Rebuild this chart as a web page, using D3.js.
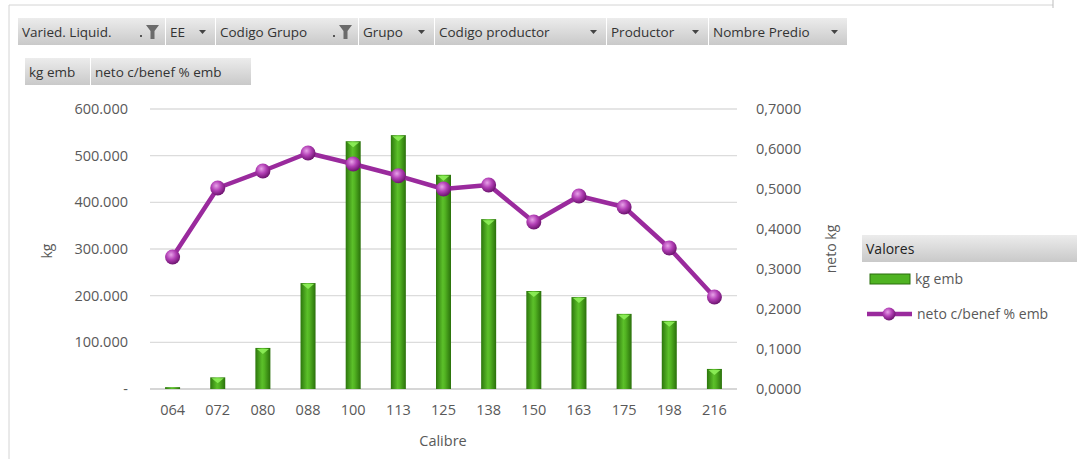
<html><head>
<script src="https://d3js.org/d3.v7.min.js"></script>
<style>
  body { margin:0; background:#fff; }
  text { font-family: "Open Sans", sans-serif; }
</style>
</head>
<body>
<svg id="chart" width="1077" height="459"></svg>
<script>
const calibres = ["064","072","080","088","100","113","125","138","150","163","175","198","216"];
const kgEmb = [4000, 25000, 88000, 227000, 531000, 544000, 459000, 364000, 210000, 197000, 161000, 146000, 43000];
const netoPct = [0.330, 0.5025, 0.545, 0.590, 0.5625, 0.533, 0.500, 0.510, 0.4175, 0.4825, 0.455, 0.3525, 0.230];
const kgTicks = [0, 100000, 200000, 300000, 400000, 500000, 600000];
const netoTicks = [0, 0.1, 0.2, 0.3, 0.4, 0.5, 0.6, 0.7];
const filterFields = ["Varied. Liquid.", "EE", "Codigo Grupo", "Grupo", "Codigo productor", "Productor", "Nombre Predio"];
const filterIcons = ["funnel", "arrow", "funnel", "arrow", "arrow", "arrow", "arrow"];
const valueFields = ["kg emb", "neto c/benef % emb"];

// layout (kept apart from data)
const filterWidths = [148, 50, 143, 76, 172, 102, 139];
const valueWidths = [66, 161];

const svg = d3.select("#chart");
const W = +svg.attr("width");

const locale = d3.formatLocale({decimal: ",", thousands: ".", grouping: [3], currency: ["", ""]});
const fmtKg = d => d === 0 ? "-" : locale.format(",.3f")(d / 1000).replace(",", ".");
const fmtNeto = locale.format(".4f");

const defs = svg.append("defs");
const btnGrad = defs.append("linearGradient").attr("id", "btn").attr("x1", 0).attr("y1", 0).attr("x2", 0).attr("y2", 1);
btnGrad.append("stop").attr("offset", "0%").attr("stop-color", "#ececec");
btnGrad.append("stop").attr("offset", "100%").attr("stop-color", "#c9c9c9");
const barGrad = defs.append("linearGradient").attr("id", "bar").attr("x1", 0).attr("y1", 0).attr("x2", 1).attr("y2", 0);
barGrad.append("stop").attr("offset", "0%").attr("stop-color", "#2c760c");
barGrad.append("stop").attr("offset", "45%").attr("stop-color", "#5cc02a");
barGrad.append("stop").attr("offset", "60%").attr("stop-color", "#52b322");
barGrad.append("stop").attr("offset", "100%").attr("stop-color", "#2a700b");
const dotGrad = defs.append("radialGradient").attr("id", "dot").attr("cx", "40%").attr("cy", "35%").attr("r", "65%");
dotGrad.append("stop").attr("offset", "0%").attr("stop-color", "#e7a2e8");
dotGrad.append("stop").attr("offset", "50%").attr("stop-color", "#b23fb5");
dotGrad.append("stop").attr("offset", "100%").attr("stop-color", "#6d146f");

// outer frame
svg.append("line").attr("x1", 9).attr("x2", 1053).attr("y1", 5).attr("y2", 5).attr("stroke", "#d4d4d4");
svg.append("line").attr("x1", 9).attr("x2", 9).attr("y1", 5).attr("y2", 459).attr("stroke", "#d4d4d4");
svg.append("line").attr("x1", 1053).attr("x2", 1053).attr("y1", 0).attr("y2", 8).attr("stroke", "#bdbdbd");

// field buttons
function buttons(names, widths, x0, y0, icons) {
  let x = x0;
  names.forEach((n, i) => {
    const g = svg.append("g").attr("transform", `translate(${x},${y0})`);
    g.append("rect").attr("width", widths[i] - 1).attr("height", 27).attr("fill", "url(#btn)");
    g.append("text").attr("x", 4).attr("y", 14).attr("dy", "0.35em")
      .attr("font-size", 13.5).attr("fill", "#333").text(n);
    const ic = icons ? icons[i] : null;
    if (ic === "arrow") {
      const ax = widths[i] - 17;
      g.append("path").attr("d", `M${ax},12 h7 l-3.5,4 z`).attr("fill", "#444");
    } else if (ic === "funnel") {
      const fx = widths[i] - 20;
      g.append("path").attr("d", `M${fx},7 h13 l-4.5,6 v8 h-4 v-8 z`).attr("fill", "#6b6b6b");
      g.append("rect").attr("x", fx - 6).attr("y", 17).attr("width", 2).attr("height", 2).attr("fill", "#555");
    }
    x += widths[i];
  });
}
buttons(filterFields, filterWidths, 18, 18, filterIcons);
buttons(valueFields, valueWidths, 25, 58, null);

// scales
const x = d3.scaleBand().domain(calibres).range([150, 737]);
const yL = d3.scaleLinear().domain([0, 600000]).range([389, 109]);
const yR = d3.scaleLinear().domain([0, 0.7]).range([389, 109]);
const cxOf = d => x(d) + x.bandwidth() / 2;

// gridlines
svg.append("g").selectAll("line").data(kgTicks).join("line")
  .attr("x1", 150).attr("x2", 737)
  .attr("y1", d => yL(d)).attr("y2", d => yL(d))
  .attr("stroke", d => d === 0 ? "#c8c8c8" : "#dcdcdc").attr("stroke-width", 1.3);

// axes
const axL = svg.append("g").attr("transform", "translate(134,0)")
  .call(d3.axisLeft(yL).tickValues(kgTicks).tickFormat(fmtKg).tickSize(0).tickPadding(6));
const axR = svg.append("g").attr("transform", "translate(750,0)")
  .call(d3.axisRight(yR).tickValues(netoTicks).tickFormat(fmtNeto).tickSize(0).tickPadding(6));
const axB = svg.append("g").attr("transform", "translate(0,389)")
  .call(d3.axisBottom(x).tickSize(0).tickPadding(16));
[axL, axR, axB].forEach(a => {
  a.select(".domain").remove();
  a.selectAll("text").attr("font-size", 14.5).attr("fill", "#595959").attr("font-family", "Open Sans, sans-serif");
});

// bars
const barData = calibres.map((c, i) => ({c, v: kgEmb[i]}));
const bw = 15;
const bars = svg.append("g").selectAll("g").data(barData).join("g");
bars.append("rect")
  .attr("x", d => cxOf(d.c) - bw / 2)
  .attr("y", d => yL(d.v))
  .attr("width", bw)
  .attr("height", d => yL(0) - yL(d.v))
  .attr("fill", "url(#bar)");
bars.filter(d => yL(0) - yL(d.v) > 6).append("path")
  .attr("d", d => {
    const cx = cxOf(d.c), t = yL(d.v);
    return `M${cx - bw / 2 + 1.5},${t + 1} h${bw - 3} l${-(bw - 3) / 2},5 z`;
  })
  .attr("fill", "#8ef05a").attr("opacity", 0.9);

// line
const line = d3.line().x((d, i) => cxOf(calibres[i])).y(d => yR(d));
svg.append("path").datum(netoPct).attr("d", line)
  .attr("fill", "none").attr("stroke", "#9a2a9d").attr("stroke-width", 4.5).attr("stroke-linejoin", "round");
svg.append("g").selectAll("circle").data(netoPct).join("circle")
  .attr("cx", (d, i) => cxOf(calibres[i])).attr("cy", d => yR(d)).attr("r", 7.5)
  .attr("fill", "url(#dot)");

// axis titles
svg.append("text").attr("transform", "translate(47,251) rotate(-90)").attr("text-anchor", "middle")
  .attr("dy", "0.35em").attr("font-size", 14).attr("fill", "#595959").text("kg");
svg.append("text").attr("transform", "translate(831,249) rotate(-90)").attr("text-anchor", "middle")
  .attr("dy", "0.35em").attr("font-size", 14).attr("fill", "#595959").text("neto kg");
svg.append("text").attr("x", 443).attr("y", 441).attr("text-anchor", "middle")
  .attr("dy", "0.35em").attr("font-size", 14.5).attr("fill", "#595959").text("Calibre");

// legend
const lg = svg.append("g");
lg.append("rect").attr("x", 862).attr("y", 235).attr("width", W - 862).attr("height", 27).attr("fill", "url(#btn)");
lg.append("text").attr("x", 866).attr("y", 249).attr("dy", "0.35em").attr("font-size", 14).attr("fill", "#222").text("Valores");
lg.append("rect").attr("x", 870).attr("y", 274).attr("width", 40).attr("height", 10).attr("fill", "#4fb322").attr("stroke", "#2b6e0c");
lg.append("text").attr("x", 915).attr("y", 279).attr("dy", "0.35em").attr("font-size", 14).attr("fill", "#595959").text(valueFields[0]);
lg.append("line").attr("x1", 867).attr("x2", 912).attr("y1", 314).attr("y2", 314).attr("stroke", "#9a2a9d").attr("stroke-width", 4.5);
lg.append("circle").attr("cx", 889).attr("cy", 314).attr("r", 6.5).attr("fill", "url(#dot)");
lg.append("text").attr("x", 917).attr("y", 314).attr("dy", "0.35em").attr("font-size", 14).attr("fill", "#595959").text(valueFields[1]);
</script>
</body>
</html>
